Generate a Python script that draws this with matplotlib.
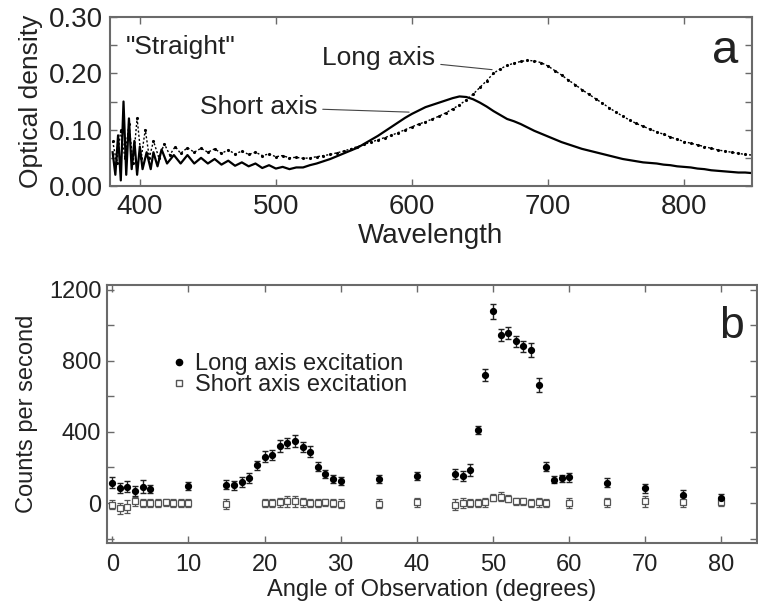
import numpy as np
import matplotlib
matplotlib.use("Agg")
import matplotlib.pyplot as plt
from matplotlib.lines import Line2D
from matplotlib.ticker import MultipleLocator

plt.rcParams['font.family'] = ['Liberation Sans', 'DejaVu Sans']

# === panel a: spectra ===
wl_short = [380, 382, 384, 386, 388, 390, 392, 394, 396, 398, 400, 402, 405, 408, 410, 413, 416, 420,
            425, 430, 435, 440, 445, 450, 455, 460, 465, 470, 475, 480, 485, 490, 495, 500,
            505, 510, 515, 520, 525, 530, 535, 540, 545, 550, 555, 560, 565, 570, 575, 580,
            585, 590, 595, 600, 605, 610, 615, 620, 625, 630, 635, 640, 645, 650, 655, 660,
            665, 670, 675, 680, 685, 690, 695, 700, 705, 710, 715, 720, 725, 730, 735, 740,
            745, 750, 755, 760, 765, 770, 775, 780, 785, 790, 795, 800, 805, 810, 815, 820,
            825, 830, 835, 840, 845, 850]
od_short = [0.06, 0.02, 0.09, 0.01, 0.15, 0.02, 0.12, 0.03, 0.08, 0.02, 0.07, 0.03, 0.06, 0.03, 0.06, 0.035, 0.065, 0.04,
            0.055, 0.04, 0.055, 0.04, 0.05, 0.04, 0.048, 0.038, 0.045, 0.036, 0.042, 0.035, 0.04, 0.032, 0.037, 0.031,
            0.034, 0.03, 0.033, 0.033, 0.037, 0.04, 0.044, 0.048, 0.053, 0.058, 0.063, 0.068, 0.075, 0.082, 0.089, 0.097,
            0.105, 0.113, 0.121, 0.128, 0.134, 0.14, 0.144, 0.148, 0.152, 0.156, 0.159, 0.158, 0.154, 0.148, 0.141, 0.133,
            0.126, 0.119, 0.115, 0.11, 0.104, 0.098, 0.093, 0.088, 0.083, 0.078, 0.074, 0.07, 0.066, 0.063, 0.06, 0.057,
            0.054, 0.051, 0.048, 0.046, 0.044, 0.042, 0.041, 0.04, 0.038, 0.037, 0.035, 0.034, 0.033, 0.031, 0.03, 0.028,
            0.027, 0.026, 0.025, 0.024, 0.024, 0.023]

wl_long = [380, 383, 386, 389, 392, 395, 398, 401, 404, 407, 410, 414, 418, 422, 426, 430,
           435, 440, 445, 450, 455, 460, 465, 470, 475, 480, 485, 490, 495, 500, 505, 510,
           515, 520, 525, 530, 535, 540, 545, 550, 555, 560, 565, 570, 575, 580, 585, 590,
           595, 600, 605, 610, 615, 620, 625, 630, 635, 640, 645, 650, 655, 660, 665, 670,
           675, 680, 685, 690, 695, 700, 705, 710, 715, 720, 725, 730, 735, 740, 745, 750,
           755, 760, 765, 770, 775, 780, 785, 790, 795, 800, 805, 810, 815, 820, 825, 830,
           835, 840, 845, 850]
od_long = [0.08, 0.04, 0.10, 0.05, 0.11, 0.04, 0.12, 0.05, 0.10, 0.05, 0.08, 0.05, 0.075, 0.055, 0.07, 0.058,
           0.068, 0.06, 0.067, 0.06, 0.066, 0.058, 0.064, 0.057, 0.062, 0.056, 0.06, 0.054, 0.057, 0.052, 0.054, 0.05,
           0.051, 0.049, 0.05, 0.052, 0.054, 0.056, 0.059, 0.062, 0.066, 0.07, 0.074, 0.078, 0.082, 0.086, 0.09, 0.095,
           0.1, 0.105, 0.11, 0.114, 0.119, 0.124, 0.13, 0.137, 0.144, 0.153, 0.163, 0.175, 0.187, 0.2, 0.208, 0.214,
           0.218, 0.221, 0.223, 0.222, 0.219, 0.213, 0.205, 0.197, 0.188, 0.18, 0.171, 0.163, 0.155, 0.147, 0.139, 0.131,
           0.124, 0.117, 0.111, 0.106, 0.101, 0.096, 0.092, 0.087, 0.083, 0.079, 0.076, 0.073, 0.07, 0.067, 0.064, 0.062,
           0.06, 0.058, 0.056, 0.055]

# === panel b: counts vs angle ===
ang_long = [0, 1, 2, 3, 4, 5, 10, 15, 16, 17, 18, 19, 20, 21, 22, 23, 24, 25, 26, 27, 28, 29, 30,
            35, 40, 45, 46, 47, 48, 49, 50, 51, 52, 53, 54, 55, 56, 57, 58, 59, 60, 65, 70, 75, 80]
cps_long = [114, 84, 92, 67, 92, 79, 96, 103, 100, 118, 140, 213, 261, 270, 321, 337, 348, 315, 289, 205, 163, 135, 124,
            135, 152, 163, 152, 186, 411, 721, 1078, 946, 958, 909, 881, 862, 665, 205, 130, 140, 146, 114, 84, 45, 28]
err_long = [30, 30, 30, 30, 35, 25, 25, 25, 25, 30, 30, 25, 30, 30, 35, 30, 35, 30, 30, 25, 25, 25, 25,
            25, 25, 30, 30, 35, 25, 35, 40, 35, 35, 30, 30, 40, 40, 25, 20, 20, 25, 25, 25, 30, 25]

ang_short = [0, 1, 2, 3, 4, 5, 6, 7, 8, 9, 10, 15, 20, 21, 22, 23, 24, 25, 26, 27, 28, 29, 30,
             35, 40, 45, 46, 47, 48, 49, 50, 51, 52, 53, 54, 55, 56, 57, 60, 65, 70, 75, 80]
cps_short = [-10, -30, -20, 10, 0, 0, 0, 5, 0, 0, 0, -5, 0, 0, 5, 10, 10, 5, 0, 0, 5, 0, -5,
             -5, 5, -10, 0, 0, 0, 5, 30, 35, 25, 10, 10, 0, 5, 0, 0, 5, 10, 5, 5]
err_short = [25, 30, 35, 25, 25, 25, 25, 20, 20, 25, 25, 30, 20, 20, 25, 30, 30, 25, 25, 25, 20, 20, 25,
             25, 25, 30, 30, 25, 25, 25, 20, 25, 20, 20, 20, 25, 25, 20, 30, 25, 30, 30, 20]

spine_col = '#6a6a6a'
text_col = '#222222'

fig = plt.figure(figsize=(7.58, 6.06), dpi=100)
ax1 = fig.add_axes([0.145, 0.693, 0.847, 0.279])
ax2 = fig.add_axes([0.141, 0.104, 0.858, 0.426])

for ax in (ax1, ax2):
    for s in ax.spines.values():
        s.set_color(spine_col)
        s.set_linewidth(1.5)
    ax.tick_params(which='both', direction='in', top=True, right=True, color=spine_col,
                   labelcolor=text_col, width=1)
    ax.tick_params(which='major', length=5)
    ax.tick_params(which='minor', length=5)

# --- panel a ---
ax1.plot(wl_short, od_short, color='black', lw=1.6)
ax1.plot(wl_long, od_long, color='black', lw=1.0, ls=(0, (1.5, 1.5)), marker='.', ms=2.5)
ax1.set_xlim(378, 850)
ax1.set_ylim(0, 0.30)
ax1.set_xticks([400, 500, 600, 700, 800])
ax1.set_yticks([0.0, 0.1, 0.2, 0.3])
ax1.set_yticklabels(['0.00', '0.10', '0.20', '0.30'])
ax1.yaxis.set_minor_locator(MultipleLocator(0.05))
ax1.tick_params(labelsize=20, pad=5)
ax1.tick_params(axis='x', pad=6)
ax1.set_xlabel('Wavelength', fontsize=20, color=text_col, labelpad=2)
ax1.set_ylabel('Optical density', fontsize=19, color=text_col, labelpad=4)

ax1.text(390, 0.247, '"Straight"', fontsize=19, color=text_col, va='center')
ax1.annotate('Long axis', xy=(661, 0.206), xytext=(534, 0.227), fontsize=19, color=text_col,
             va='center', arrowprops=dict(arrowstyle='-', color='#444444', lw=0.8))
ax1.annotate('Short axis', xy=(600, 0.131), xytext=(444, 0.14), fontsize=19, color=text_col,
             va='center', arrowprops=dict(arrowstyle='-', color='#444444', lw=0.8))
ax1.text(0.978, 0.80, 'a', transform=ax1.transAxes, fontsize=34, color=text_col,
         ha='right', va='center')

# --- panel b ---
ax2.errorbar(ang_short, cps_short, yerr=err_short, fmt='s', ms=3.8, mfc='white', mec='#555555',
             mew=0.9, ecolor='#555555', elinewidth=0.9, capsize=2.2, capthick=0.9)
ax2.errorbar(ang_long, cps_long, yerr=err_long, fmt='o', ms=4.2, color='black',
             ecolor='#222222', elinewidth=1.0, capsize=2.2, capthick=1.0)
ax2.set_xlim(-0.7, 84.7)
ax2.set_ylim(-225, 1228)
ax2.set_xticks(range(0, 81, 10))
ax2.set_yticks([0, 400, 800, 1200])
ax2.yaxis.set_minor_locator(MultipleLocator(200))
ax2.tick_params(labelsize=17, pad=4)
ax2.tick_params(axis='x', pad=8)
ax2.set_xlabel('Angle of Observation (degrees)', fontsize=17, color=text_col, labelpad=2)
ax2.set_ylabel('Counts per second', fontsize=17, color=text_col, labelpad=8)
ax2.text(0.98, 0.837, 'b', transform=ax2.transAxes, fontsize=32, color=text_col,
         ha='right', va='center')

handles = [Line2D([], [], marker='o', color='black', ls='none', ms=4.5),
           Line2D([], [], marker='s', mfc='white', mec='#555555', ls='none', ms=4.5)]
ax2.legend(handles, ['Long axis excitation', 'Short axis excitation'], loc='upper left',
           bbox_to_anchor=(0.078, 0.78), frameon=False, fontsize=17, handlelength=0.8,
           handletextpad=0.3, labelspacing=-0.05, borderpad=0, labelcolor=text_col)

fig.savefig('out.png', dpi=100)
